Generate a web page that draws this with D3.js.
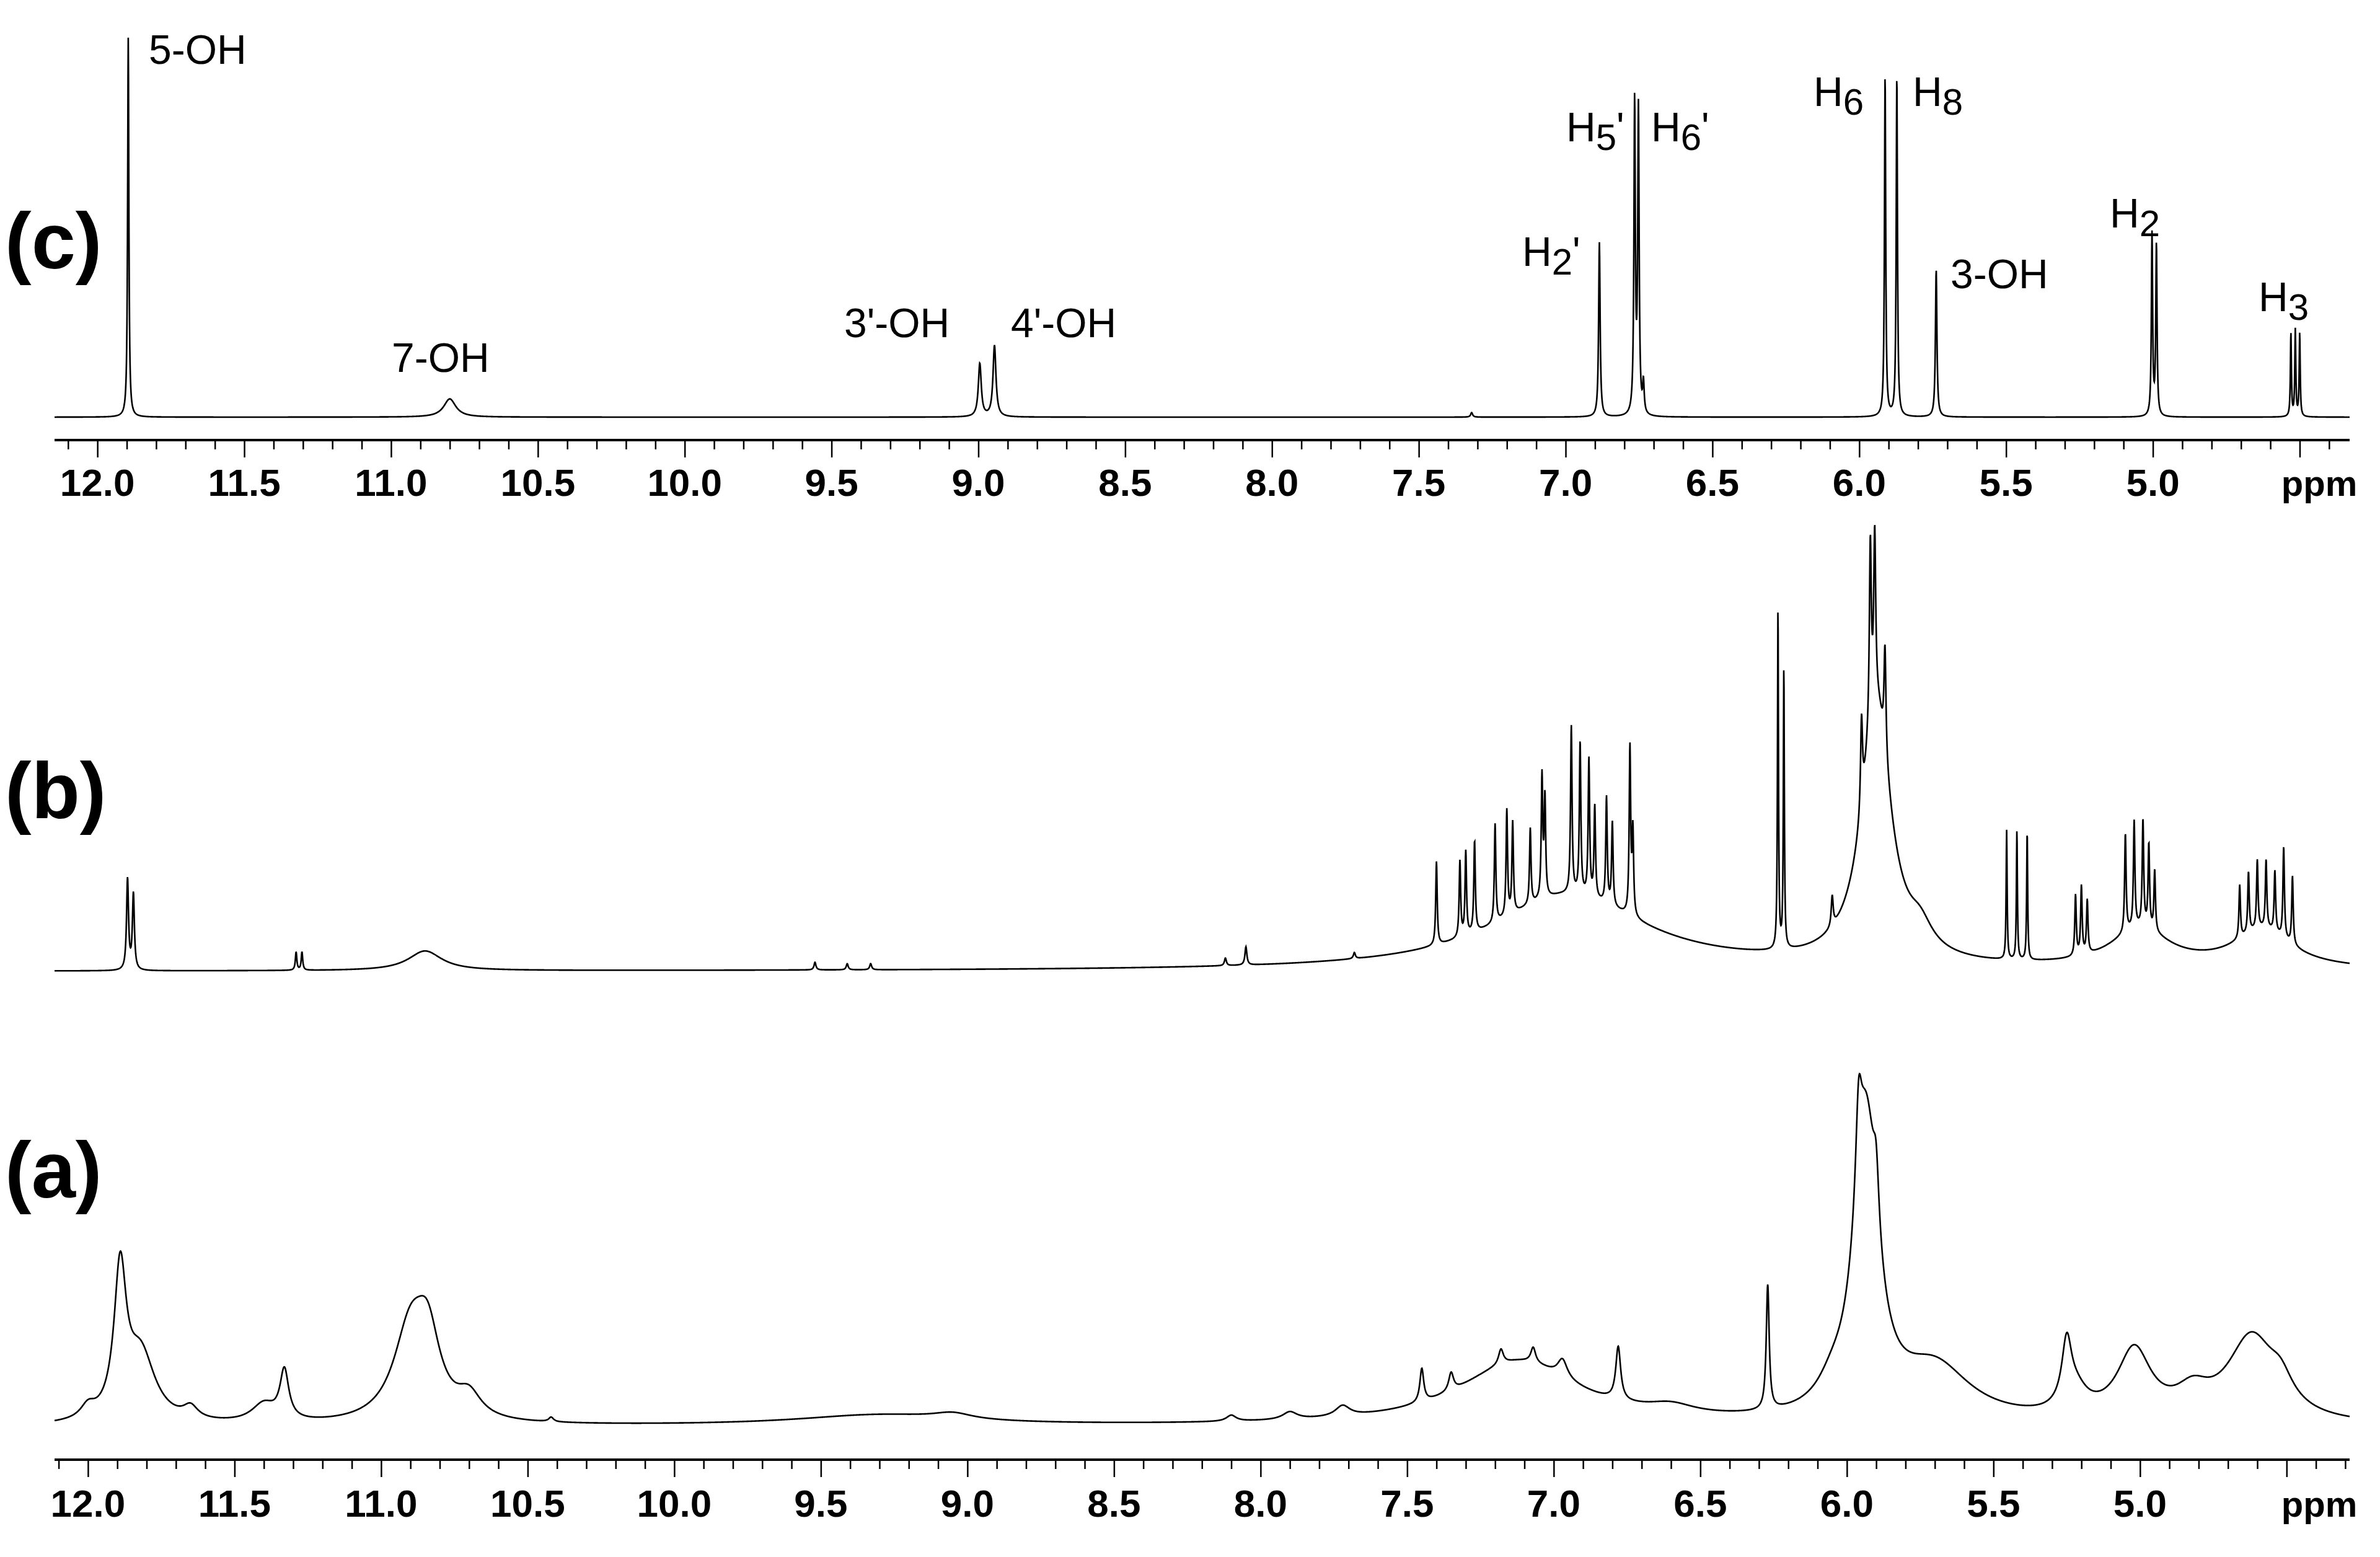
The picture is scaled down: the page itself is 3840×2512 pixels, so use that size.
<!DOCTYPE html>
<html><head><meta charset="utf-8">
<script src="https://cdn.jsdelivr.net/npm/d3@7/dist/d3.min.js"></script>
<style>body{margin:0;background:#fff}svg{display:block}</style>
</head><body>
<script>
// Peak lists: [ppm, height (relative units), half-width ppm]
const peaksC = [[11.895,250,0.0025],[10.80,12,0.025],[8.995,35,0.006],[8.945,47,0.006],[7.32,3,0.004],
  [6.885,115,0.003],[6.765,205,0.0028],[6.752,200,0.0028],[6.735,20,0.003],
  [5.912,225,0.0025],[5.872,225,0.0025],[5.738,97,0.003],[5.003,120,0.0025],[4.988,113,0.0025],
  [4.53,55,0.002],[4.515,57,0.002],[4.50,55,0.002]];
const peaksB = [[11.865,60,0.004],[11.845,50,0.004],[11.29,12,0.003],[11.27,12,0.003],[10.85,13,0.07],
  [9.52,5,0.004],[9.41,4,0.004],[9.33,4,0.004],[8.12,5,0.004],[8.05,12,0.004],[7.68,4,0.004],
  [6.95,50,0.32],[7.40,55,0.003],[7.32,50,0.003],[7.30,55,0.003],[7.27,60,0.003],[7.20,65,0.003],
  [7.16,70,0.003],[7.14,60,0.003],[7.08,50,0.003],[7.04,80,0.003],[7.03,65,0.003],
  [6.94,110,0.003],[6.91,100,0.003],[6.88,90,0.003],[6.86,60,0.003],[6.82,70,0.003],[6.80,55,0.003],
  [6.74,110,0.003],[6.73,55,0.003],[6.235,225,0.002],[6.215,185,0.002],[6.05,20,0.004],
  [5.90,170,0.06],[5.92,120,0.004],[5.905,110,0.004],[5.95,60,0.004],[5.87,70,0.004],[5.75,15,0.05],
  [5.455,85,0.002],[5.42,85,0.002],[5.385,85,0.002],[5.22,40,0.003],[5.20,45,0.003],[5.18,35,0.003],
  [5.0,25,0.12],[5.05,65,0.003],[5.02,70,0.003],[4.99,70,0.003],[4.97,55,0.003],[4.95,40,0.003],
  [4.58,25,0.12],[4.66,35,0.003],[4.63,40,0.003],[4.60,45,0.003],[4.57,45,0.003],[4.54,40,0.003],
  [4.51,60,0.003],[4.48,45,0.003]];
const peaksA = [[12.0,8,0.03],[11.89,95,0.025],[11.82,45,0.06],[11.65,8,0.03],[11.40,12,0.05],[11.33,32,0.018],
  [10.90,60,0.07],[10.84,45,0.05],[10.70,15,0.05],[10.42,3,0.01],[9.3,7,0.35],[9.05,4,0.08],
  [8.1,4,0.02],[7.9,5,0.03],[7.72,7,0.03],[7.45,22,0.008],[7.12,42,0.25],[7.35,12,0.01],[7.18,10,0.01],
  [7.07,10,0.01],[6.97,12,0.02],[6.78,35,0.01],[6.60,6,0.1],[6.27,82,0.006],[6.05,12,0.06],
  [5.935,190,0.05],[5.96,60,0.012],[5.90,40,0.012],[5.70,35,0.15],[5.25,40,0.02],[5.22,15,0.05],
  [5.02,45,0.07],[4.82,15,0.07],[4.62,55,0.1],[4.52,15,0.05]];
const ticks = [12.0,11.5,11.0,10.5,10.0,9.5,9.0,8.5,8.0,7.5,7.0,6.5,6.0,5.5,5.0];
const labelsC = ["5-OH","7-OH","3'-OH","4'-OH","H|2|'","H|5|'","H|6|'","H|6|","H|8|","3-OH","H|2|","H|3|"];
const labelPos = [[240,103],[632,600],[1362,544],[1631,544],[2456,429],[2527,228],[2664,228],[2926,171],[3086,171],[3147,465],[3404,367],[3644,502]];

const W=3840,H=2512;
const svg=d3.select("body").append("svg").attr("width",W).attr("height",H);
const xTop=d3.scaleLinear().domain([12.146,4.33]).range([88,3791]);
const xBot=d3.scaleLinear().domain([12.114,4.285]).range([88,3791]);
const font="Arial, 'Liberation Sans', sans-serif";

function spectrum(peaks,x,base,scale){
  const [a,b]=x.domain(); const n=9000; const pts=[];
  for(let i=0;i<=n;i++){const p=a+(b-a)*i/n;let s=0;
    for(const [c,h,w] of peaks){const d=p-c;s+=h*w*w/(d*d+w*w);} pts.push([p,s]);}
  const y=d3.scaleLinear().domain([0,100]).range([base,base-100*scale]);
  svg.append("path").attr("d",d3.line().x(d=>x(d[0])).y(d=>y(d[1]))(pts))
    .attr("fill","none").attr("stroke","#000").attr("stroke-width",2.6);
}
spectrum(peaksC,xTop,673,2.449);
spectrum(peaksB,xBot,1567,2.449);
spectrum(peaksA,xBot,2302,2.449);

function axis(x,y0,labY){
  const g=svg.append("g").attr("transform",`translate(0,${y0})`);
  const ax=d3.axisBottom(x).tickValues(d3.range(121,42,-1).map(v=>v/10).filter(v=>v<=x.domain()[0]&&v>=x.domain()[1]))
    .tickSize(15).tickFormat("");
  g.call(ax);
  g.select(".domain").attr("stroke-width",4).attr("d",`M${x.range()[0]},0H${x.range()[1]}`);
  g.selectAll(".tick line").attr("stroke-width",2.5).attr("y2",d=>Math.abs(d*2-Math.round(d*2))<1e-6?28:15);
  const t=svg.append("g");
  t.selectAll("text").data(ticks).join("text").attr("x",d=>x(d)).attr("y",labY)
    .attr("text-anchor","middle").attr("font-family",font).attr("font-weight","bold").attr("font-size",62)
    .text(d=>d.toFixed(1));
  t.append("text").attr("x",3742).attr("y",labY).attr("text-anchor","middle").attr("font-family",font)
    .attr("font-weight","bold").attr("font-size",58).text("ppm");
}
axis(xTop,710,800);
axis(xBot,2355,2447);

[["(c)",433],["(b)",1320],["(a)",1932]].forEach(([t,y])=>svg.append("text").attr("x",8).attr("y",y)
  .attr("font-family",font).attr("font-weight","bold").attr("font-size",128).text(t));

labelsC.forEach((l,i)=>{
  const parts=l.split("|");
  const t=svg.append("text").attr("x",labelPos[i][0]).attr("y",labelPos[i][1]).attr("font-family",font).attr("font-size",66);
  t.append("tspan").text(parts[0]);
  if(parts.length>1){t.append("tspan").attr("dy",14).attr("font-size",60).text(parts[1]);
    if(parts[2])t.append("tspan").attr("dy",-14).text(parts[2]);}
});
</script>
</body></html>
